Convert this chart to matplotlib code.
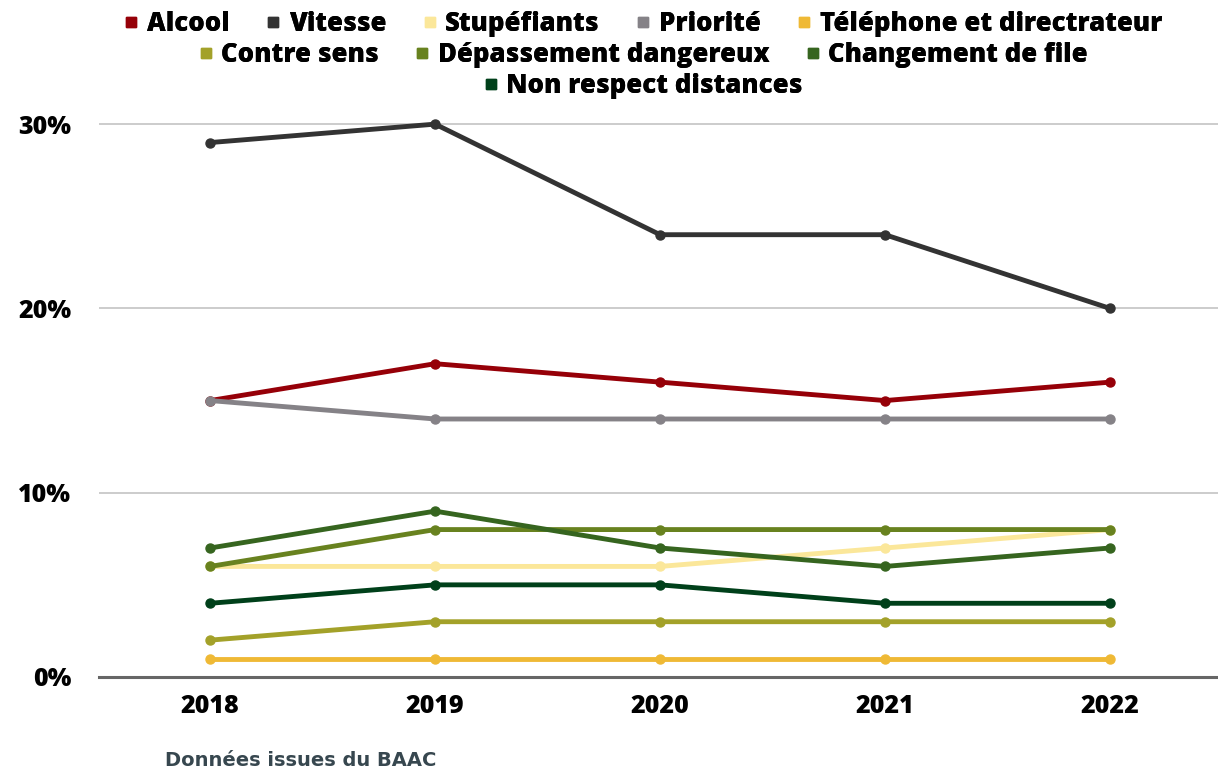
import matplotlib.pyplot as plt
from matplotlib.lines import Line2D
from matplotlib.ticker import FuncFormatter

years = ["2018", "2019", "2020", "2021", "2022"]

alcool = [15, 17, 16, 15, 16]
vitesse = [29, 30, 24, 24, 20]
stupefiants = [6, 6, 6, 7, 8]
priorite = [15, 14, 14, 14, 14]
telephone = [1, 1, 1, 1, 1]
contre_sens = [2, 3, 3, 3, 3]
depassement = [6, 8, 8, 8, 8]
changement = [7, 9, 7, 6, 7]
distances = [4, 5, 5, 4, 4]

series = [
    ("Alcool", alcool, "#960008"),
    ("Vitesse", vitesse, "#333333"),
    ("Stupéfiants", stupefiants, "#fbe79a"),
    ("Priorité", priorite, "#858287"),
    ("Téléphone et directrateur", telephone, "#efb935"),
    ("Contre sens", contre_sens, "#a3a129"),
    ("Dépassement dangereux", depassement, "#68821f"),
    ("Changement de file", changement, "#36651f"),
    ("Non respect distances", distances, "#00401a"),
]

plt.rcParams["font.family"] = ["Open Sans", "DejaVu Sans"]
HEAVY = 800

fig = plt.figure(figsize=(12.18, 7.73), dpi=100)
ax = fig.add_axes([99 / 1218, 1 - 677 / 773, 1 - 99 / 1218, (677 - 105.7) / 773])

x = list(range(len(years)))
for label, vals, color in series:
    ax.plot(x, [v / 100 for v in vals], color=color, lw=3.5, marker="o",
            markersize=6.5, solid_capstyle="round", label=label)

ax.set_xlim(-0.494, 4.48)
ax.set_ylim(0, 0.31)
ax.set_yticks([0, 0.1, 0.2, 0.3])
ax.yaxis.set_major_formatter(FuncFormatter(lambda v, _: f"{round(v * 100)}%"))
ax.set_xticks(x)
ax.set_xticklabels(years)
ax.tick_params(length=0, labelsize=18)
ax.tick_params(axis="x", pad=12)
ax.tick_params(axis="y", pad=20)
for lab in ax.get_xticklabels() + ax.get_yticklabels():
    lab.set_fontweight(HEAVY)
ax.grid(axis="y", color="#c4c4c4", lw=1.2)
ax.set_axisbelow(True)
for side in ["left", "right", "top"]:
    ax.spines[side].set_visible(False)
ax.spines["bottom"].set_color("#666666")
ax.spines["bottom"].set_linewidth(2.2)

# legend laid out in three centred rows
rows = [series[:5], series[5:8], series[8:]]
row_y = [24, 55, 86]
for row, yp in zip(rows, row_y):
    handles = [Line2D([], [], ls="none", marker="s", markersize=7, color=c) for _, _, c in row]
    leg = fig.legend(handles, [lab for lab, _, _ in row], ncol=len(row), loc="center",
                     bbox_to_anchor=(0.5 + 34 / 1218, 1 - yp / 773), frameon=False,
                     prop={"weight": HEAVY, "size": 18.5}, handletextpad=0.3,
                     columnspacing=1.4, handlelength=0.6, borderpad=0)
    fig.add_artist(leg)

fig.text(165 / 1218, 1 - 761 / 773, "Données issues du BAAC", color="#37474f",
         fontsize=14, fontweight="bold", family="DejaVu Sans", va="center", ha="left")

fig.savefig("out.png", dpi=100)
